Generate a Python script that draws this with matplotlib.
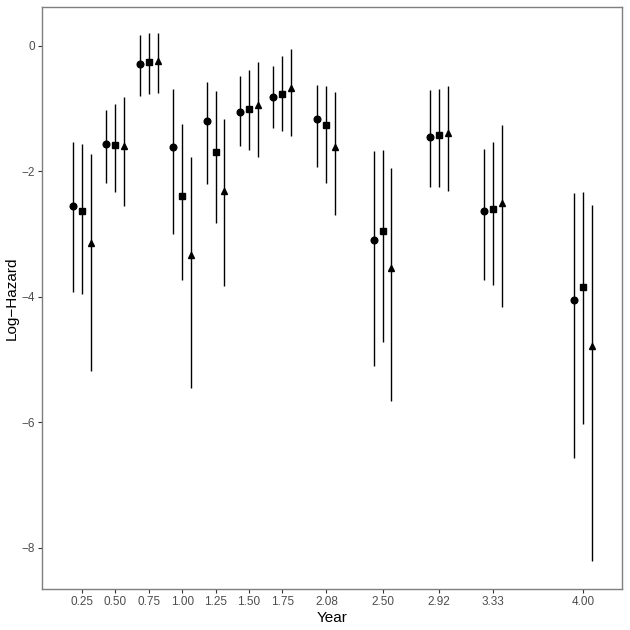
import matplotlib
matplotlib.use("Agg")
import matplotlib.pyplot as plt

plt.rcParams['font.family'] = ['Liberation Sans', 'DejaVu Sans']

# années et estimations (log-hazard) pour trois modèles
years = [0.25, 0.50, 0.75, 1.00, 1.25, 1.50, 1.75, 2.08, 2.50, 2.92, 3.33, 4.00]
year_labels = ["0.25", "0.50", "0.75", "1.00", "1.25", "1.50", "1.75",
               "2.08", "2.50", "2.92", "3.33", "4.00"]

est_circle = [-2.55, -1.57, -0.29, -1.62, -1.20, -1.05, -0.82, -1.16, -3.09, -1.45, -2.63, -4.05]
lo_circle = [-3.93, -2.18, -0.80, -3.00, -2.21, -1.59, -1.31, -1.93, -5.11, -2.25, -3.74, -6.57]
hi_circle = [-1.54, -1.02, 0.17, -0.69, -0.57, -0.48, -0.32, -0.63, -1.68, -0.71, -1.64, -2.35]

est_square = [-2.63, -1.58, -0.26, -2.40, -1.69, -1.01, -0.77, -1.27, -2.95, -1.42, -2.60, -3.85]
lo_square = [-3.96, -2.33, -0.77, -3.73, -2.82, -1.66, -1.35, -2.19, -4.72, -2.25, -3.82, -6.03]
hi_square = [-1.57, -0.93, 0.20, -1.25, -0.72, -0.38, -0.16, -0.64, -1.66, -0.69, -1.54, -2.33]

est_tri = [-3.15, -1.59, -0.24, -3.34, -2.32, -0.94, -0.67, -1.61, -3.54, -1.39, -2.51, -4.79]
lo_tri = [-5.19, -2.55, -0.76, -5.46, -3.83, -1.78, -1.44, -2.70, -5.66, -2.31, -4.17, -8.21]
hi_tri = [-1.72, -0.82, 0.21, -1.77, -1.17, -0.26, -0.05, -0.73, -1.95, -0.64, -1.27, -2.54]

dodge = 0.067

fig = plt.figure(figsize=(6.3, 6.3), dpi=100)
ax = fig.add_axes([0.0667, 0.065, 0.92, 0.924])

series = [
    (est_circle, lo_circle, hi_circle, "o", -dodge, 4.8),
    (est_square, lo_square, hi_square, "s", 0.0, 4.3),
    (est_tri, lo_tri, hi_tri, "^", dodge, 5.0),
]
for est, lo, hi, mk, off, ms in series:
    xs = [y + off for y in years]
    ax.vlines(xs, lo, hi, color="black", lw=1.0)
    ax.plot(xs, est, linestyle="none", marker=mk, color="black", ms=ms)

ax.set_xlim(-0.049, 4.29)
ax.set_ylim(-8.66, 0.62)
ax.set_xticks(years)
ax.set_xticklabels(year_labels)
ax.set_yticks([0, -2, -4, -6, -8])
ax.set_yticklabels(["0", "\u22122", "\u22124", "\u22126", "\u22128"])

for s in ax.spines.values():
    s.set_color("#7f7f7f")
    s.set_linewidth(1.0)
ax.tick_params(colors="#333333", labelcolor="#4d4d4d", labelsize=8.5,
               length=3, width=0.8, pad=2)

ax.set_xlabel("Year", fontsize=11, labelpad=2)
ax.set_ylabel("Log\u2212Hazard", fontsize=11, labelpad=2)

fig.savefig("out.png", dpi=100)
